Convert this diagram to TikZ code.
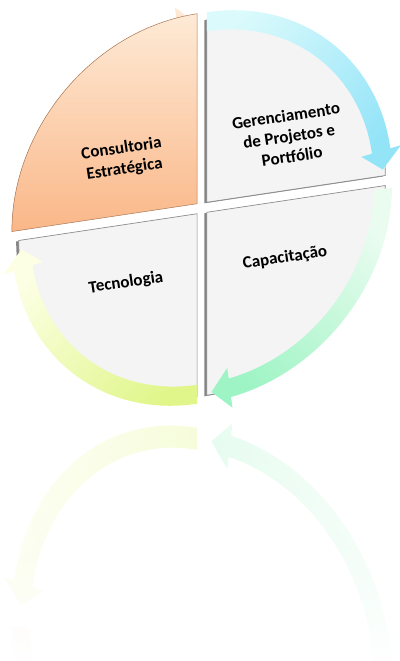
\documentclass[tikz,border=0pt]{standalone}
\usepackage{fontspec}
\setmainfont{Carlito}
\usetikzlibrary{fadings,shadows}

\definecolor{orangeL}{RGB}{254,234,214}
\definecolor{orangeD}{RGB}{250,183,136}
\definecolor{orangeE}{RGB}{170,120,85}
\definecolor{cyanL}{RGB}{218,250,252}
\definecolor{cyanD}{RGB}{148,228,248}
\definecolor{greenL}{RGB}{234,252,240}
\definecolor{greenD}{RGB}{158,244,196}
\definecolor{yellowL}{RGB}{252,255,228}
\definecolor{yellowD}{RGB}{224,246,138}
\definecolor{quadgray}{RGB}{244,244,244}

\newcommand{\ringarrow}[3]{% 円弧の矢印
  \shade[#3] (#1:190) arc[start angle=#1,end angle=#2+6,radius=190]
    -- ({#2+6}:201) -- (#2:180.5) -- ({#2+6}:160) -- ({#2+6}:171)
    arc[start angle=#2+6,end angle=#1,radius=171] -- cycle;}

\newcommand{\ringall}{%
  \foreach \a/\b/\cl/\cd/\ang/\dx/\dy in {180/90.5/orangeL/orangeD/0/-5/5,
      90/2/cyanL/cyanD/45/5/5, -1/-88.5/greenL/greenD/-45/5/-5,
      -90/-177/yellowL/yellowD/45/-5/-5}{
    \begin{scope}[shift={(\dx,\dy)}]
      \ringarrow{\a}{\b}{top color=\cl,bottom color=\cd,shading angle=\ang}
    \end{scope}}}

\begin{document}
\begin{tikzpicture}[x=1pt,y=1pt,
    quad/.style={fill=quadgray,draw=black!45,line width=0.7pt,
      drop shadow={shadow xshift=-2.5pt,shadow yshift=-1pt,fill=black!60,opacity=0.8}},
    lbl/.style={font=\bfseries\fontsize{17}{20.5}\selectfont,align=center,rotate=8.5}]
  \useasboundingbox (0,0) rectangle (399,-661);

  % 反射
  \begin{scope}[yshift=-892.25,yscale=-1.15,opacity=0.5]
    \begin{scope}[shift={(202,-208)},yslant=0.15,xscale=0.975]
      \ringall
    \end{scope}
  \end{scope}
  \fill[white,path fading=north] (0,-415) rectangle (399,-661);

  % 本体
  \begin{scope}[shift={(202,-208)},yslant=0.15,xscale=0.975]
    \path[quad,shift={(5,5)}] (0,0) -- (90:183) arc[start angle=90,end angle=0,radius=183] -- cycle; %右上
    \path[quad,shift={(5,-5)}] (0,0) -- (0:183) arc[start angle=0,end angle=-90,radius=183] -- cycle; %右下
    \path[quad,shift={(-5,-5)}] (0,0) -- (-90:183) arc[start angle=-90,end angle=-180,radius=183] -- cycle; %左下
    \ringall
    \shade[draw=orangeE,line width=0.5pt,top color=orangeL,bottom color=orangeD,shift={(-5,5)}]
      (0,0) -- (90:190) arc[start angle=90,end angle=180,radius=190] -- cycle; %左上
  \end{scope}

  \node[lbl] (consult) at (123,-159) {Consultoria\\Estratégica};
  \node[lbl] (gerenc) at (289,-136) {Gerenciamento\\de Projetos e\\Portfólio};
  \node[lbl] (capac) at (285,-258) {Capacitação};
  \node[lbl] (tecno) at (126,-283) {Tecnologia};
\end{tikzpicture}
\end{document}
